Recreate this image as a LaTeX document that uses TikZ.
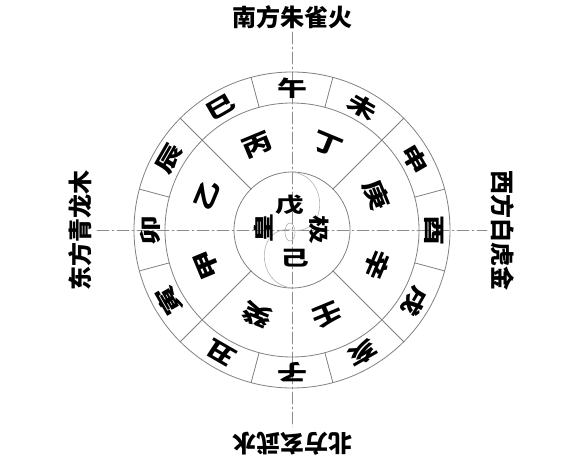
\documentclass[tikz,border=0pt]{standalone}
\usepackage{fontspec}
\newfontfamily\cjk{Noto Sans CJK SC}
\usepackage{tikz}
\usetikzlibrary{arrows}

\begin{document}
\begin{tikzpicture}[line cap=round,line join=round,x=1pt,y=1pt,
  ringline/.style={line width=0.8pt,color=black!50},
  axisline/.style={line width=0.8pt,color=black!45,dash pattern=on 12pt off 3pt on 2pt off 3pt},
  zhichar/.style={font=\cjk\bfseries\fontsize{24}{24}\selectfont,inner sep=0pt,xscale=1.25,yscale=0.9},
  ganchar/.style={font=\cjk\bfseries\fontsize{25}{25}\selectfont,inner sep=0pt,xscale=1.2,yscale=0.95},
  midchar/.style={font=\cjk\bfseries\fontsize{24}{24}\selectfont,inner sep=0pt,xscale=1.2,yscale=0.85},
  dirtext/.style={font=\cjk\bfseries\fontsize{24}{24}\selectfont,inner sep=0pt}]
\useasboundingbox (-292.,-236.) rectangle (288.,230.);
% axes
\coordinate (axN) at (0.,198.);
\coordinate (axS) at (0.,-197.);
\coordinate (axW) at (-195.,0.);
\coordinate (axE) at (195.,0.);
\draw [axisline] (axN)-- (axS);
\draw [axisline] (axW)-- (axE);
% rings
\draw [ringline] (0.,0.) circle (158.);
\draw [ringline] (0.,0.) circle (127.);
\draw [ringline] (0.,0.) circle (58.);
\draw [ringline] (15:127.)-- (15:158.);
\draw [ringline] (45:127.)-- (45:158.);
\draw [ringline] (75:127.)-- (75:158.);
\draw [ringline] (105:127.)-- (105:158.);
\draw [ringline] (135:127.)-- (135:158.);
\draw [ringline] (165:127.)-- (165:158.);
\draw [ringline] (195:127.)-- (195:158.);
\draw [ringline] (225:127.)-- (225:158.);
\draw [ringline] (255:127.)-- (255:158.);
\draw [ringline] (285:127.)-- (285:158.);
\draw [ringline] (315:127.)-- (315:158.);
\draw [ringline] (345:127.)-- (345:158.);
\draw [ringline] (45:58.)-- (45:127.);
\draw [ringline] (135:58.)-- (135:127.);
\draw [ringline] (225:58.)-- (225:127.);
\draw [ringline] (315:58.)-- (315:127.);
% taiji
\draw [line width=0.6pt, color=black!30] (0.,58.) .. controls (38.,54.) and (36.,-6.) .. (0.,0.) .. controls (-36.,6.) and (-38.,-54.) .. (0.,-58.);
\draw [line width=0.6pt, color=black!30] (-2.,-2.) ellipse (5. and 9.);
% directions
\node (nanfang) at (0.,212.5) [dirtext] {南方朱雀火};
\node (beifang) at (0.,-214.) [rotate=180, dirtext] {北方玄武水};
\node (dongfang) at (-212.,0.) [rotate=90, dirtext] {东方青龙木};
\node (xifang) at (211.,0.) [rotate=-90, dirtext] {西方白虎金};
% branches
\node (wu) at (90:142.) [rotate=0, zhichar] {午};
\node (wei) at (60:142.) [rotate=-30, zhichar] {未};
\node (shen) at (30:142.) [rotate=-60, zhichar] {申};
\node (you) at (0:142.) [rotate=-90, zhichar] {酉};
\node (xu) at (-30:142.) [rotate=-120, zhichar] {戌};
\node (hai) at (-60:142.) [rotate=-150, zhichar] {亥};
\node (zi) at (-90:142.) [rotate=180, zhichar] {子};
\node (chou) at (-120:142.) [rotate=150, zhichar] {丑};
\node (yin) at (-150:142.) [rotate=120, zhichar] {寅};
\node (mao) at (180:142.) [rotate=90, zhichar] {卯};
\node (chen) at (150:142.) [rotate=60, zhichar] {辰};
\node (si) at (120:142.) [rotate=30, zhichar] {巳};
% stems
\node (bing) at (112.5:92.) [rotate=22.5, ganchar] {丙};
\node (ding) at (67.5:92.) [rotate=-22.5, ganchar] {丁};
\node (geng) at (22.5:92.) [rotate=-67.5, ganchar] {庚};
\node (xin) at (-22.5:92.) [rotate=-112.5, ganchar] {辛};
\node (ren) at (-67.5:92.) [rotate=-157.5, ganchar] {壬};
\node (gui) at (-112.5:92.) [rotate=157.5, ganchar] {癸};
\node (jia) at (-157.5:92.) [rotate=112.5, ganchar] {甲};
\node (yi) at (157.5:92.) [rotate=67.5, ganchar] {乙};
% centre
\node (wuz) at (-2.,25.) [midchar] {戊};
\node (ji) at (3.,-28.) [midchar] {己};
\node (huang) at (-28.5,1.5) [rotate=90, midchar] {皇};
\node (jiz) at (27.,0.) [rotate=-90, midchar] {极};
\end{tikzpicture}
\end{document}
